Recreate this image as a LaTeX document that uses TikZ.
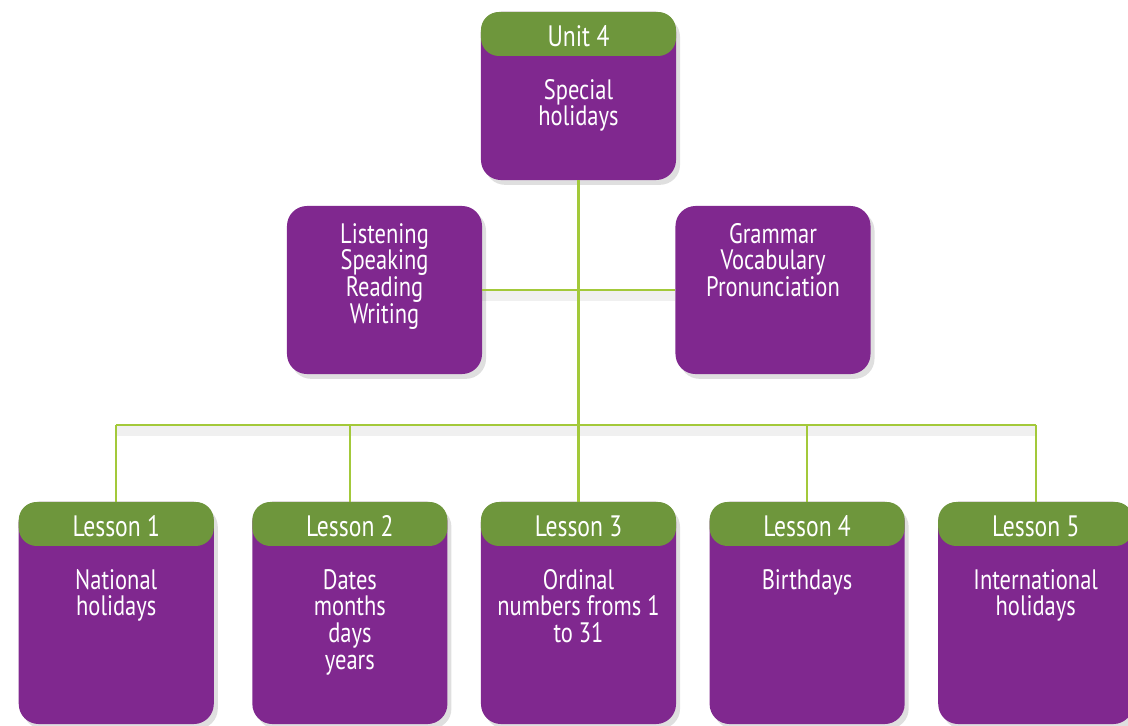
\documentclass[tikz,border=0pt]{standalone}
\usepackage{fontspec}
\setmainfont{PT Sans}[FakeStretch=0.8]
\usetikzlibrary{positioning,shadows}
\definecolor{plum}{HTML}{80288F}
\definecolor{leaf}{HTML}{6E963C}
\definecolor{stem}{HTML}{A3C93A}

\begin{document}
\begin{tikzpicture}
[x=0.025cm,y=-0.025cm,
 card/.style={rectangle,rounded corners=0.5cm,fill=plum,minimum width=4.875cm,
   drop shadow={opacity=0.25,shadow xshift=0.1cm,shadow yshift=-0.12cm}},
 short/.style={card,minimum height=4.2cm},
 tall/.style={card,minimum height=5.55cm},
 head/.style={rectangle,rounded corners=0.45cm,fill=leaf,minimum width=4.875cm,
   minimum height=1.1cm,inner sep=0pt,text height=0.65cm,text depth=0pt,
   anchor=north,text=white,font=\fontsize{21}{23}\selectfont},
 body/.style={anchor=north,inner sep=0pt,text=white,align=center,
   font=\fontsize{20}{19}\selectfont},
 link/.style={draw=stem,line width=1.7pt},
 shade/.style={draw=black,opacity=0.06,line width=7pt}]
\useasboundingbox (0,0) rectangle (1128,725);
% unit and skills
\node[short] (unit) at (578.5,96) {};
\node[short] (skills) at (384.5,290) {};
\node[short] (know) at (773,290) {};
% lessons
\node[tall] (l3) at (578.5,613) {};
\node[tall] (l2) [left=0.825cm of l3] {};
\node[tall] (l1) [left=0.95cm of l2] {};
\node[tall] (l4) [right=0.825cm of l3] {};
\node[tall] (l5) [right=0.825cm of l4] {};
% connectors
\coordinate (bar) at (578.5,425);
\draw[shade] ([yshift=-0.15cm]skills.east) -- ([yshift=-0.15cm]know.west);
\draw[shade] ([yshift=-0.15cm]bar -| l1.north) -- ([yshift=-0.15cm]bar -| l5.north);
\draw[link] (unit.south) -- (bar);
\draw[link] (skills.east) -- (know.west);
\draw[link] (bar -| l1.north) -- (bar -| l5.north);
\foreach \i in {1,...,5}
  \draw[link] (l\i.north) -- (l\i.north |- bar);
% headers and texts
\node[head] (unithead) at (unit.north) {Unit 4};
\node[body] (unittext) at ([yshift=-1.68cm]unit.north) {Special\\holidays};
\node[body] (skillstext) at ([yshift=-0.43cm]skills.north) {Listening\\Speaking\\Reading\\Writing};
\node[body] (knowtext) at ([yshift=-0.43cm]know.north) {Grammar\\Vocabulary\\Pronunciation};
\node[head] (l1head) at (l1.north) {Lesson 1};
\node[head] (l2head) at (l2.north) {Lesson 2};
\node[head] (l3head) at (l3.north) {Lesson 3};
\node[head] (l4head) at (l4.north) {Lesson 4};
\node[head] (l5head) at (l5.north) {Lesson 5};
\node[body] (l1text) at ([yshift=-1.68cm]l1.north) {National\\holidays};
\node[body] (l2text) at ([yshift=-1.68cm]l2.north) {Dates\\months\\days\\years};
\node[body] (l3text) at ([yshift=-1.68cm]l3.north) {Ordinal\\numbers froms 1\\to 31};
\node[body] (l4text) at ([yshift=-1.68cm]l4.north) {Birthdays};
\node[body] (l5text) at ([yshift=-1.68cm]l5.north) {International\\holidays};
\end{tikzpicture}
\end{document}
